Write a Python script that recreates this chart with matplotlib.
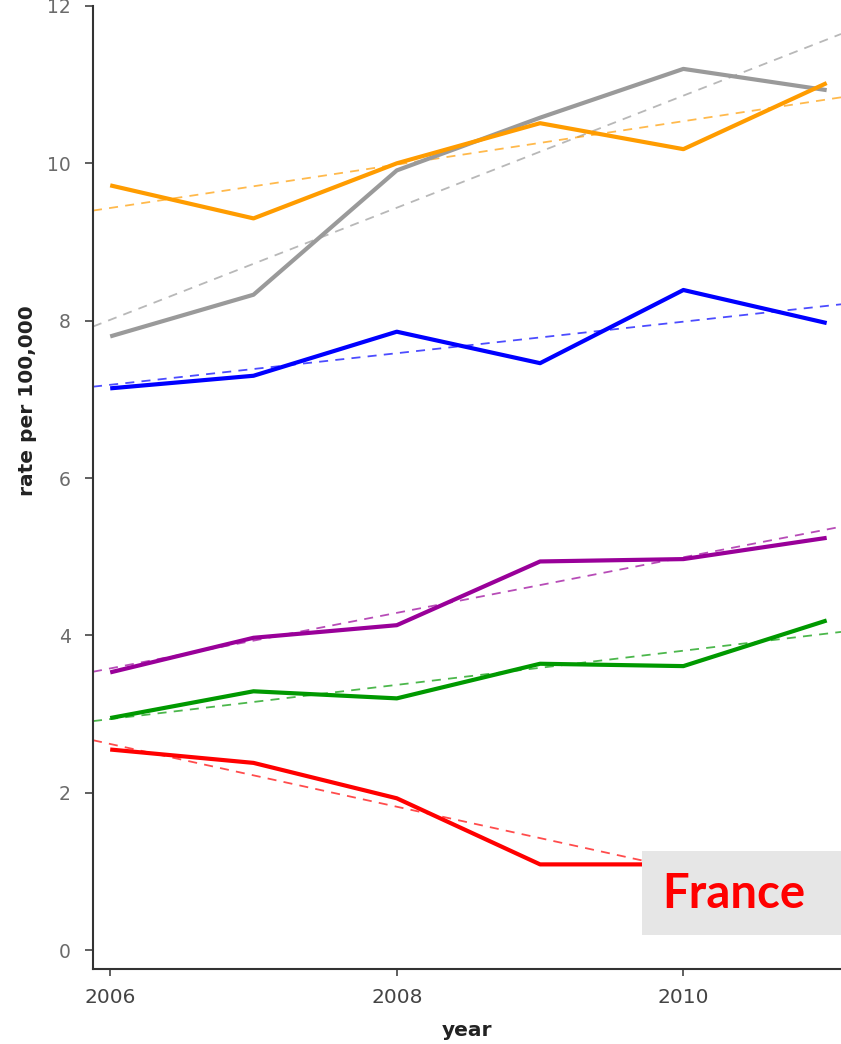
import numpy as np
import matplotlib
matplotlib.use("Agg")
from matplotlib import pyplot as plt
from matplotlib.patches import Rectangle

years = [2006, 2007, 2008, 2009, 2010, 2011]

gray_rate = [7.80, 8.33, 9.91, 10.58, 11.20, 10.93]
orange_rate = [9.72, 9.30, 10.00, 10.51, 10.18, 11.02]
blue_rate = [7.14, 7.30, 7.86, 7.46, 8.39, 7.97]
purple_rate = [3.53, 3.97, 4.13, 4.94, 4.97, 5.24]
green_rate = [2.95, 3.29, 3.20, 3.64, 3.61, 4.19]
red_rate = [2.55, 2.38, 1.93, 1.09, 1.09, 0.70]

series = [
    (gray_rate, "#9a9a9a"),
    (orange_rate, "#ff9c00"),
    (blue_rate, "#0000ff"),
    (purple_rate, "#990099"),
    (green_rate, "#009900"),
    (red_rate, "#ff0000"),
]

x_ticks = [2006, 2008, 2010]
y_ticks = [0, 2, 4, 6, 8, 10, 12]
country = "France"

fig = plt.figure(figsize=(8.41, 10.44), dpi=100)
ax = fig.add_axes([0.1106, 0.0718, 0.8894, 0.9225])

xlim = (2005.88, 2011.10)
xs = np.array(years)
xfit = np.linspace(xlim[0], xlim[1], 50)

for vals, col in series:
    # linear trend through each series, drawn across the whole axis
    k, b = np.polyfit(xs, vals, 1)
    ax.plot(xfit, k * xfit + b, color=col, lw=1.3, ls=(0, (5, 4)), alpha=0.7, zorder=2)
    ax.plot(xs, vals, color=col, lw=3.0, solid_capstyle="butt", zorder=3)

ax.set_xlim(*xlim)
ax.set_ylim(-0.24, 12)
ax.set_xticks(x_ticks)
ax.set_yticks(y_ticks)
ax.tick_params(axis="y", length=6, width=1.2, color="#444444", labelsize=13.5,
               labelcolor="#6b6b6b", pad=10)
ax.tick_params(axis="x", length=5, width=1.2, color="#444444", labelsize=14.5,
               labelcolor="#444444", pad=9)
ax.spines["top"].set_visible(False)
ax.spines["right"].set_visible(False)
for s in ("left", "bottom"):
    ax.spines[s].set_linewidth(1.5)
    ax.spines[s].set_color("#333333")

ax.set_ylabel("rate per 100,000", fontsize=14.5, fontweight="bold", color="#222222")
ax.yaxis.set_label_coords(-0.075, 0.59)
ax.set_xlabel("year", fontsize=14.5, fontweight="bold", color="#222222", labelpad=10)

# country label box in the lower right corner
fig.patches.append(Rectangle((642 / 841, 1 - 935 / 1044), 199 / 841, 84 / 1044,
                             transform=fig.transFigure, facecolor="#e6e6e6",
                             edgecolor="none", zorder=10))
fig.text(734 / 841, 1 - 894 / 1044, country, color="#ff0000", fontsize=34,
         fontweight="bold", family="Lato", ha="center", va="center", zorder=11)

fig.savefig("out.png", dpi=100)
